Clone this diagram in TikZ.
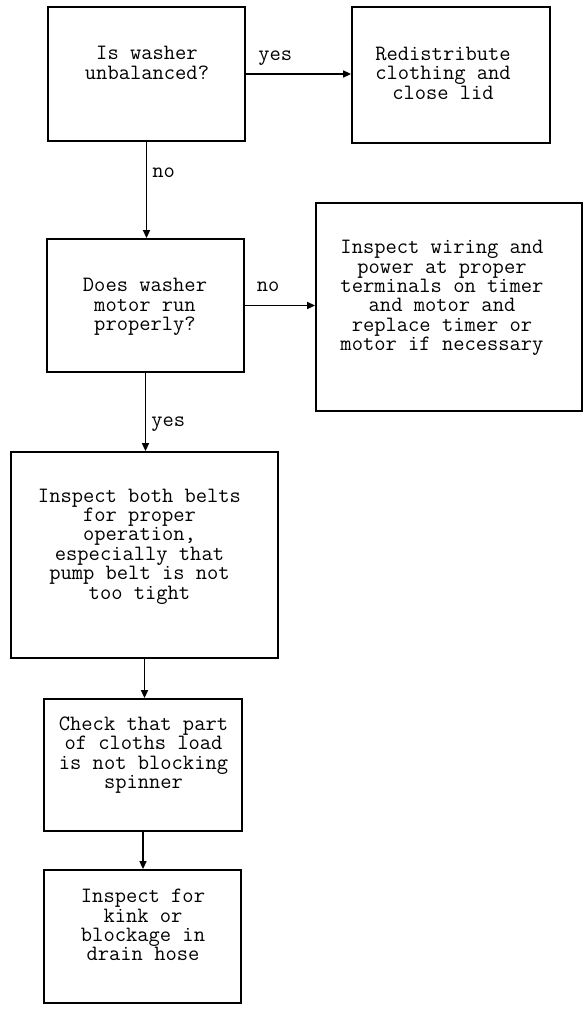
\documentclass[tikz,border=0pt]{standalone}
\usepackage{fontspec}
\usepackage{tikz}
\usetikzlibrary{arrows.meta}

\begin{document}
\begin{tikzpicture}[
  x=1pt, y=1pt,
  box/.style={draw, line width=1.8pt, inner sep=0pt},
  txt/.style={font=\ttfamily\fontsize{21.9}{19.4}\selectfont, align=center, inner sep=0pt},
  lbl/.style={font=\ttfamily\fontsize{21.9}{19.4}\selectfont, inner sep=0pt, text depth=0pt},
  arr/.style={-{Triangle[length=8pt, width=7pt]}, line width=1.5pt},
]
\useasboundingbox (0,0) rectangle (585,-1009);

% Top row
\node[box, minimum width=197pt, minimum height=134pt] (unbal) at (146.5,-74) {};
\node[txt] (unbal-txt) at (147,-63) {Is washer\\unbalanced?};

\node[box, minimum width=198pt, minimum height=136pt] (redist) at (451,-75) {};
\node[txt] (redist-txt) at (443,-73) {Redistribute\\clothing and\\close lid};

% Second row
\node[box, minimum width=197pt, minimum height=133pt] (motor) at (145.5,-305.5) {};
\node[txt] (motor-txt) at (145,-307) {Does washer\\motor run\\properly?};

\node[box, minimum width=266pt, minimum height=208pt] (wiring) at (449,-307) {};
\node[txt] (wiring-txt) at (442,-298)
  {Inspect wiring and\\power at proper\\terminals on timer\\and motor and\\replace timer or\\motor if necessary};

% Checks down the left side
\node[box, minimum width=267pt, minimum height=206pt] (belts) at (144.5,-555) {};
\node[txt] (belts-txt) at (139.5,-546.5)
  {Inspect both belts\\for proper\\operation,\\especially that\\pump belt is not\\too tight};

\node[box, minimum width=198pt, minimum height=132pt] (spinner) at (143,-765) {};
\node[txt] (spinner-txt) at (143.5,-755)
  {Check that part\\of cloths load\\is not blocking\\spinner};

\node[box, minimum width=197pt, minimum height=133pt] (hose) at (142.5,-936.5) {};
\node[txt] (hose-txt) at (143,-925)
  {Inspect for\\kink or\\blockage in\\drain hose};

% Arrows
\draw[arr] (unbal.east) -- (unbal.east -| redist.west)
  node[lbl, pos=0.28, above=13pt] (yes1) {yes};
\draw[arr] (unbal.south) -- (unbal.south |- motor.north)
  node[lbl, pos=0.32, right=5pt] (no1) {no};
\draw[arr] (motor.east) -- (motor.east -| wiring.west)
  node[lbl, pos=0.33, above=13pt] (no2) {no};
\draw[arr] (motor.south) -- (motor.south |- belts.north)
  node[lbl, pos=0.62, right=5pt] (yes2) {yes};
\draw[arr] (belts.south) -- (belts.south |- spinner.north);
\draw[arr] (spinner.south) -- (spinner.south |- hose.north);

\end{tikzpicture}
\end{document}
